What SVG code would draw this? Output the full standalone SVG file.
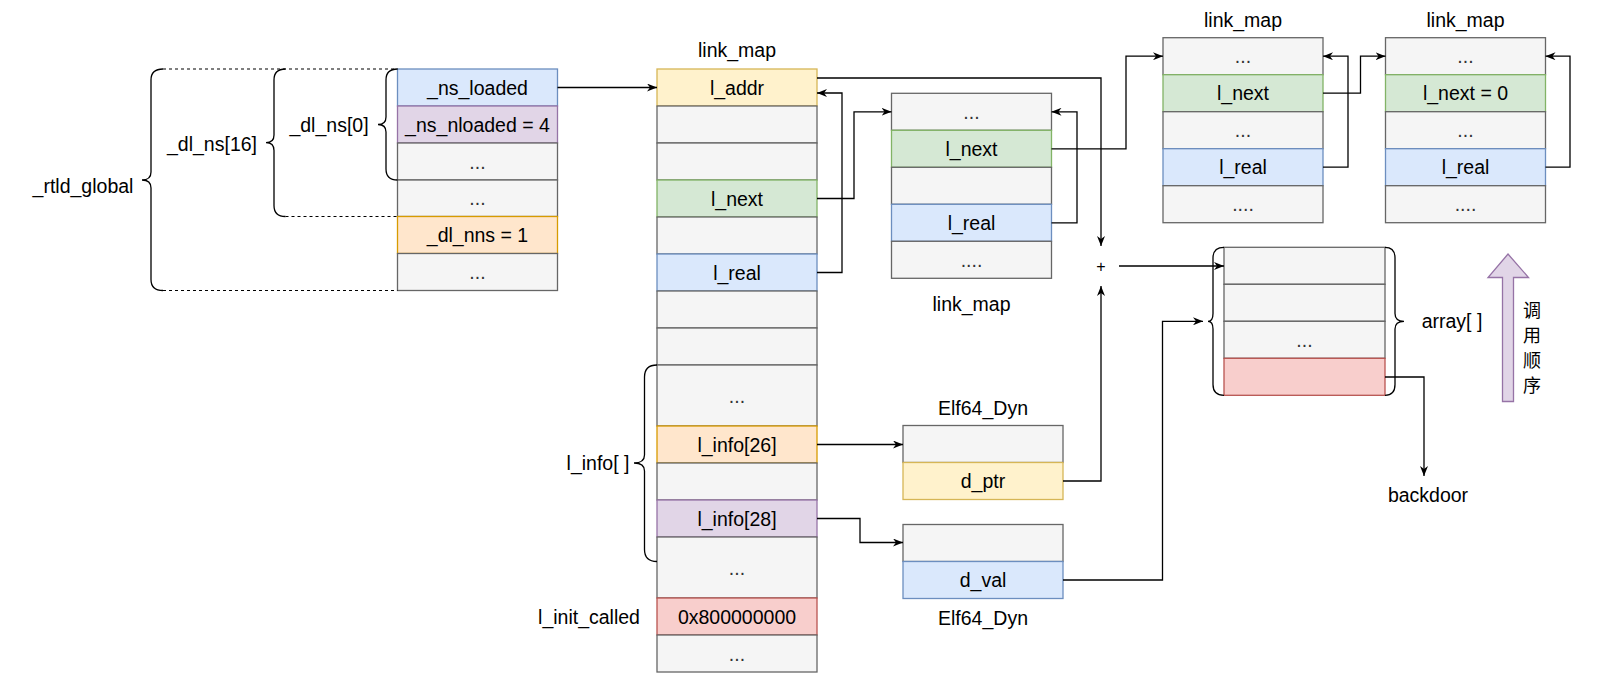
<svg xmlns="http://www.w3.org/2000/svg" width="1615" height="673" viewBox="0 0 1615 673">
<style>
rect{stroke-width:1.3}
.g{fill:#f5f5f5;stroke:#666666}
.b{fill:#dae8fc;stroke:#6c8ebf}
.p{fill:#e1d5e7;stroke:#9673a6}
.o{fill:#ffe6cc;stroke:#d79b00}
.y{fill:#fff2cc;stroke:#d6b656}
.gr{fill:#d5e8d4;stroke:#82b366}
.r{fill:#f8cecc;stroke:#b85450}
text{font-family:"Liberation Sans",Arial,Helvetica,sans-serif;font-size:19.5px;text-anchor:middle;dominant-baseline:central;fill:#000}
text.d{fill:#333333}
.w{fill:none;stroke:#000;stroke-width:1.3}
.ds{fill:none;stroke:#000;stroke-width:1.2;stroke-dasharray:3 3}
.cn path{fill:none;stroke:#000;stroke-width:1.3;marker-end:url(#arr)}
</style>
<defs>
<marker id="arr" viewBox="0 0 10 8" refX="10" refY="4" markerWidth="10" markerHeight="8" orient="auto" markerUnits="userSpaceOnUse"><path d="M0,0 L10,4 L0,8 L3,4 Z" fill="#000"/></marker>
</defs>
<rect width="1615" height="673" fill="#ffffff"/>

<g id="rtld_global">
<rect class="b" x="397.5" y="69" width="160" height="37"/><text x="477.5" y="87.5">_ns_loaded</text>
<rect class="p" x="397.5" y="106" width="160" height="37"/><text x="477.5" y="124.5">_ns_nloaded = 4</text>
<rect class="g" x="397.5" y="143" width="160" height="37"/><text class="d" x="477.5" y="161.5">...</text>
<rect class="g" x="397.5" y="180" width="160" height="36.5"/><text class="d" x="477.5" y="198.3">...</text>
<rect class="o" x="397.5" y="216.5" width="160" height="37"/><text x="477.5" y="235">_dl_nns = 1</text>
<rect class="g" x="397.5" y="253.5" width="160" height="37"/><text class="d" x="477.5" y="272">...</text>
</g>

<g id="braces_left">
<path class="w" d="M163,69 Q151,69 151,80 V172 Q151,180 142,180 Q151,180 151,188 V279.5 Q151,290.5 163,290.5"/>
<path class="w" d="M285.5,69 Q274,69 274,80 V135 Q274,142.7 266,142.7 Q274,142.7 274,150.5 V205.5 Q274,216.5 285.5,216.5"/>
<path class="w" d="M397.5,69 Q386,69 386,80 V117 Q386,124.5 378,124.5 Q386,124.5 386,132 V169 Q386,180 397.5,180"/>
<path class="ds" d="M163,69 H397.5 M285.5,216.5 H397.5 M163,290.5 H397.5"/>
<text x="83" y="186">_rtld_global</text>
<text x="212" y="143.5">_dl_ns[16]</text>
<text x="329" y="125">_dl_ns[0]</text>
</g>

<g id="link_map_main">
<text x="737" y="50">link_map</text>
<rect class="y" x="657" y="69" width="160" height="37"/><text x="737" y="87.5">l_addr</text>
<rect class="g" x="657" y="106" width="160" height="37"/>
<rect class="g" x="657" y="143" width="160" height="37"/>
<rect class="gr" x="657" y="180" width="160" height="37"/><text x="737" y="198.5">l_next</text>
<rect class="g" x="657" y="217" width="160" height="37"/>
<rect class="b" x="657" y="254" width="160" height="37"/><text x="737" y="272.5">l_real</text>
<rect class="g" x="657" y="291" width="160" height="37"/>
<rect class="g" x="657" y="328" width="160" height="37"/>
<rect class="g" x="657" y="365" width="160" height="61"/><text class="d" x="737" y="395.5">...</text>
<rect class="o" x="657" y="426" width="160" height="37"/><text x="737" y="444.5">l_info[26]</text>
<rect class="g" x="657" y="463" width="160" height="37"/>
<rect class="p" x="657" y="500" width="160" height="37"/><text x="737" y="518.5">l_info[28]</text>
<rect class="g" x="657" y="537" width="160" height="61"/><text class="d" x="737" y="567.5">...</text>
<rect class="r" x="657" y="598" width="160" height="37"/><text x="737" y="616.5">0x800000000</text>
<rect class="g" x="657" y="635" width="160" height="37"/><text class="d" x="737" y="653.5">...</text>
</g>

<g id="l_info_brace">
<path class="w" d="M657,365 Q644.5,365 644.5,377 V455 Q644.5,463 634,463 Q644.5,463 644.5,471 V549.5 Q644.5,561.5 657,561.5"/>
<text x="598" y="463">l_info[ ]</text>
<text x="589" y="617">l_init_called</text>
</g>

<g id="link_map_2">
<rect class="g" x="891.5" y="93.3" width="160" height="37"/><text class="d" x="971.5" y="111.8">...</text>
<rect class="gr" x="891.5" y="130.3" width="160" height="37"/><text x="971.5" y="148.8">l_next</text>
<rect class="g" x="891.5" y="167.3" width="160" height="37"/>
<rect class="b" x="891.5" y="204.3" width="160" height="37"/><text x="971.5" y="222.8">l_real</text>
<rect class="g" x="891.5" y="241.3" width="160" height="37"/><text class="d" x="971.5" y="259.8">....</text>
<text x="971.5" y="304">link_map</text>
</g>

<g id="link_map_3">
<text x="1243" y="20">link_map</text>
<rect class="g" x="1163" y="37.7" width="160" height="37"/><text class="d" x="1243" y="56.2">...</text>
<rect class="gr" x="1163" y="74.7" width="160" height="37"/><text x="1243" y="93.2">l_next</text>
<rect class="g" x="1163" y="111.7" width="160" height="37"/><text class="d" x="1243" y="130.2">...</text>
<rect class="b" x="1163" y="148.7" width="160" height="37"/><text x="1243" y="167.2">l_real</text>
<rect class="g" x="1163" y="185.7" width="160" height="37"/><text class="d" x="1243" y="204.2">....</text>
</g>

<g id="link_map_4">
<text x="1465.5" y="20">link_map</text>
<rect class="g" x="1385.5" y="37.7" width="160" height="37"/><text class="d" x="1465.5" y="56.2">...</text>
<rect class="gr" x="1385.5" y="74.7" width="160" height="37"/><text x="1465.5" y="93.2">l_next = 0</text>
<rect class="g" x="1385.5" y="111.7" width="160" height="37"/><text class="d" x="1465.5" y="130.2">...</text>
<rect class="b" x="1385.5" y="148.7" width="160" height="37"/><text x="1465.5" y="167.2">l_real</text>
<rect class="g" x="1385.5" y="185.7" width="160" height="37"/><text class="d" x="1465.5" y="204.2">....</text>
</g>

<g id="elf64_dyn_1">
<text x="983" y="408">Elf64_Dyn</text>
<rect class="g" x="903" y="425.5" width="160" height="37"/>
<rect class="y" x="903" y="462.5" width="160" height="37"/><text x="983" y="481">d_ptr</text>
</g>

<g id="elf64_dyn_2">
<rect class="g" x="903" y="524.5" width="160" height="37"/>
<rect class="b" x="903" y="561.5" width="160" height="37"/><text x="983" y="580">d_val</text>
<text x="983" y="618">Elf64_Dyn</text>
</g>

<g id="plus">
<text x="1101" y="266" style="font-size:16px">+</text>
</g>

<g id="array">
<rect class="g" x="1224" y="247.3" width="161" height="37"/>
<rect class="g" x="1224" y="284.3" width="161" height="37"/>
<rect class="g" x="1224" y="321.3" width="161" height="37"/><text class="d" x="1304.5" y="339.8">...</text>
<rect class="r" x="1224" y="358.3" width="161" height="37"/>
<path class="w" d="M1224,247.3 Q1213,247.3 1213,258 V313.5 Q1213,321.3 1208,321.3 Q1213,321.3 1213,329 V384.5 Q1213,395.3 1224,395.3"/>
<path class="w" d="M1385,247.3 Q1395,247.3 1395,258 V313.5 Q1395,321.3 1404,321.3 Q1395,321.3 1395,329 V384.5 Q1395,395.3 1385,395.3"/>
<text x="1452" y="321">array[ ]</text>
</g>

<g id="backdoor">
<text x="1428" y="495">backdoor</text>
</g>

<g id="call_order">
<path d="M1508,254 L1528.5,277.5 L1513.5,277.5 L1513.5,401.5 L1502.5,401.5 L1502.5,277.5 L1488,277.5 Z" fill="#e1d5e7" stroke="#9673a6" stroke-width="1.3"/>
<text x="1532" style="font-family:'Noto Sans CJK SC','Liberation Sans',sans-serif;font-size:18px"><tspan x="1532" y="308.5">调</tspan><tspan x="1532" y="334">用</tspan><tspan x="1532" y="359">顺</tspan><tspan x="1532" y="384">序</tspan></text>
</g>

<g id="connectors" class="cn">
<path d="M557.5,87.5 H657"/>
<path d="M817,78 H1101 V246"/>
<path d="M817,272.5 H842 V93 H817"/>
<path d="M817,198.5 H854 V111.8 H891.5"/>
<path d="M1051.5,222.8 H1077 V111.8 H1051.5"/>
<path d="M1051.5,148.8 H1126 V56.2 H1163"/>
<path d="M1323,167.2 H1348 V56.2 H1323"/>
<path d="M1323,93.2 H1360.5 V56.2 H1385.5"/>
<path d="M1545.5,167.2 H1570 V56.2 H1545.5"/>
<path d="M817,444.5 H903"/>
<path d="M817,518.5 H860 V542.5 H903"/>
<path d="M1063,481 H1101 V286"/>
<path d="M1119,266 H1224"/>
<path d="M1063,580 H1162.5 V321.3 H1203"/>
<path d="M1385,377 H1424 V476"/>
</g>
</svg>
